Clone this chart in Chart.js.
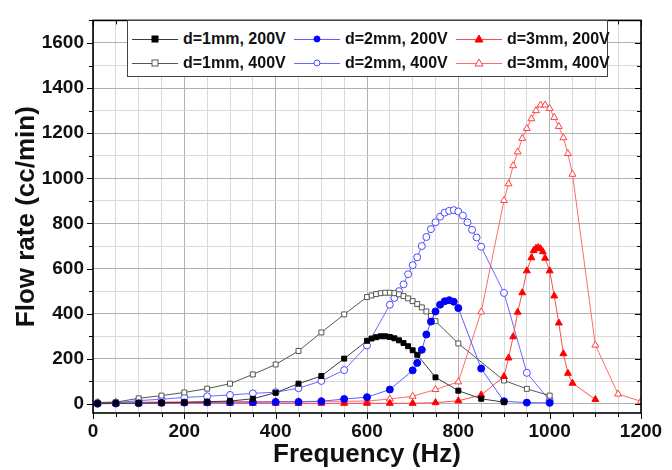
<!DOCTYPE html>
<html>
<head>
<meta charset="utf-8">
<script src="https://cdn.jsdelivr.net/npm/chart.js@4.4.0/dist/chart.umd.min.js"></script>
<style>
  body { margin: 0; background: #fff; }
  #wrap { position: relative; width: 672px; height: 470px; }
  #legend {
    position: absolute; left: 127px; top: 20px; width: 481px; height: 57px;
    border: 1px solid #444; background: #fff; box-sizing: border-box;
    display: grid; grid-template-columns: 162px 162px 156px; grid-template-rows: 24px 24px;
    padding: 6px 0 0 4px;
    font: bold 16px "Liberation Sans", Arial, sans-serif; color: #111;
  }
  #legend .item { display: flex; align-items: center; white-space: nowrap; }
  #legend svg { margin-right: 5px; }
</style>
</head>
<body>
<div id="wrap">
  <canvas id="myChart" width="672" height="470"></canvas>
  <div id="legend"></div>
</div>
<script>
// DATA :
const freq_1mm_200 = [10, 50, 100, 150, 200, 250, 300, 350, 400, 450, 500, 550, 600, 610, 620, 630, 640, 650, 660, 670, 680, 690, 700, 710, 750, 800, 850, 900];
const flow_1mm_200 = [2, 3, 4, 5, 7, 10, 13, 23, 50, 90, 124, 201, 280, 290, 296, 300, 300, 297, 291, 282, 270, 256, 238, 218, 118, 59, 23, 8];

const freq_2mm_200 = [10, 50, 100, 150, 200, 250, 300, 350, 400, 450, 500, 550, 600, 650, 700, 710, 720, 730, 740, 750, 760, 770, 780, 790, 800, 850, 900, 950, 1000];
const flow_2mm_200 = [1, 2, 3, 5, 6, 7, 8, 8, 9, 9, 12, 22, 30, 64, 149, 182, 240, 308, 365, 410, 440, 455, 460, 453, 425, 157, 12, 6, 5];

const freq_3mm_200 = [10, 50, 100, 150, 200, 250, 300, 350, 400, 450, 500, 550, 600, 650, 700, 750, 800, 850, 900, 910, 920, 930, 940, 950, 960, 965, 970, 975, 980, 985, 990, 1000, 1010, 1020, 1030, 1040, 1050, 1100];
const flow_3mm_200 = [2, 2, 2, 3, 3, 3, 3, 3, 3, 3, 3, 3, 3, 3, 3, 6, 14, 40, 122, 204, 298, 407, 493, 590, 648, 680, 690, 693, 688, 675, 646, 590, 479, 359, 223, 136, 92, 20];

const freq_1mm_400 = [10, 50, 100, 150, 200, 250, 300, 350, 400, 450, 500, 550, 600, 610, 620, 630, 640, 650, 660, 670, 680, 690, 700, 710, 720, 730, 740, 750, 800, 900, 950, 1000];
const flow_1mm_400 = [5, 8, 25, 37, 51, 68, 90, 131, 175, 235, 317, 397, 474, 481, 487, 491, 493, 493, 491, 486, 478, 468, 456, 443, 428, 410, 390, 367, 268, 104, 67, 37];

const freq_2mm_400 = [10, 50, 100, 150, 200, 250, 300, 350, 400, 450, 500, 550, 600, 650, 660, 670, 680, 690, 700, 710, 720, 730, 740, 750, 760, 770, 780, 790, 800, 810, 820, 830, 840, 850, 900, 950, 1000];
const flow_2mm_400 = [5, 5, 15, 21, 29, 34, 40, 47, 52, 70, 102, 150, 259, 440, 470, 500, 530, 575, 615, 650, 700, 740, 775, 805, 830, 848, 856, 859, 853, 835, 805, 772, 738, 697, 492, 138, 15];

const freq_3mm_400 = [10, 50, 100, 150, 200, 250, 300, 350, 400, 450, 500, 550, 600, 650, 700, 750, 800, 850, 900, 910, 920, 930, 940, 950, 960, 970, 980, 990, 1000, 1010, 1020, 1030, 1040, 1050, 1100, 1150, 1200];
const flow_3mm_400 = [8, 8, 8, 9, 9, 10, 10, 10, 11, 11, 12, 12, 13, 22, 34, 64, 98, 408, 902, 976, 1056, 1117, 1177, 1221, 1264, 1300, 1325, 1325, 1310, 1270, 1230, 1180, 1110, 1018, 261, 44, 12];

const xTicks = [0, 200, 400, 600, 800, 1000, 1200];
const yTicks = [0, 200, 400, 600, 800, 1000, 1200, 1400, 1600];

const toPoints = (xs, ys) => xs.map((x, i) => ({ x: x, y: ys[i] }));

// series: label, x, y, line colour, marker colour, marker style, filled
const series = [
    ['d=1mm, 200V', freq_1mm_200, flow_1mm_200, '#3a3a3a', '#000000', 'rect', true],
    ['d=2mm, 200V', freq_2mm_200, flow_2mm_200, '#5c5cff', '#0000ff', 'circle', true],
    ['d=3mm, 200V', freq_3mm_200, flow_3mm_200, '#ff4c4c', '#ff0000', 'triangle', true],
    ['d=1mm, 400V', freq_1mm_400, flow_1mm_400, '#555555', '#555555', 'rect', false],
    ['d=2mm, 400V', freq_2mm_400, flow_2mm_400, '#6a6aff', '#4a4aff', 'circle', false],
    ['d=3mm, 400V', freq_3mm_400, flow_3mm_400, '#ff6a6a', '#ff4040', 'triangle', false],
];

const datasets = series.map(s => ({
    label: s[0],
    data: toPoints(s[1], s[2]),
    showLine: true,
    borderColor: s[3],
    borderWidth: 1,
    pointStyle: s[5],
    pointRadius: s[5] === 'triangle' ? 4 : 3.5,
    pointBorderWidth: 1,
    pointBorderColor: s[4],
    pointBackgroundColor: s[6] ? s[4] : '#ffffff',
    tension: 0,
}));

// frame + Origin style ticks
const frameTicks = {
    id: 'frameTicks',
    afterDraw(chart) {
        const c = chart.ctx;
        const a = chart.chartArea;
        const xs = chart.scales.x, ys = chart.scales.y;
        c.save();
        c.strokeStyle = '#000';
        c.lineWidth = 1;
        c.beginPath();
        for (let v = 0; v <= 1200; v += 50) {
            const px = Math.round(xs.getPixelForValue(v)) + 0.5;
            const len = v % 200 === 0 ? 6 : 4;
            c.moveTo(px, a.bottom); c.lineTo(px, a.bottom + len);
            c.moveTo(px, a.top); c.lineTo(px, a.top + len);
        }
        for (let v = 0; v <= 1700; v += 100) {
            const py = Math.round(ys.getPixelForValue(v)) + 0.5;
            const len = v % 200 === 0 ? 6 : 4;
            c.moveTo(a.left, py); c.lineTo(a.left - len, py);
            c.moveTo(a.right, py); c.lineTo(a.right - len, py);
        }
        c.stroke();
        c.lineWidth = 1.6;
        c.strokeRect(a.left, a.top, a.right - a.left, a.bottom - a.top);
        c.restore();
    }
};

const ctx = document.getElementById('myChart').getContext('2d');

const myChart = new Chart(ctx, {
    type: 'scatter',
    data: { datasets },
    options: {
        responsive: false,
        animation: false,
        layout: { padding: { top: 11, right: 31, left: 0, bottom: 0 } },
        plugins: { legend: { display: false }, tooltip: { enabled: false } },
        scales: {
            x: {
                type: 'linear', min: 0, max: 1200,
                afterBuildTicks: (scale) => {
                    scale.ticks = [];
                    for (let v = 0; v <= 1200; v += 50) scale.ticks.push({ value: v });
                },
                afterFit: (scale) => { scale.height = 57; },
                grid: {
                    drawTicks: false,
                    color: (c) => c.tick && c.tick.value % 200 === 0 ? '#b0b0b0' : '#dadada',
                    lineWidth: 1,
                },
                border: { display: false },
                ticks: {
                    autoSkip: false, maxRotation: 0, padding: 7,
                    color: '#111',
                    font: { family: '"Liberation Sans", Arial', size: 19, weight: 'bold' },
                    callback: (v) => xTicks.includes(v) ? v : '',
                },
                title: {
                    display: true, text: 'Frequency (Hz)', color: '#111',
                    font: { family: '"Liberation Sans", Arial', size: 26, weight: 'bold' },
                    padding: { top: 0, bottom: 0 },
                },
            },
            y: {
                type: 'linear', min: -40, max: 1700,
                afterBuildTicks: (scale) => {
                    scale.ticks = [];
                    for (let v = 0; v <= 1700; v += 100) scale.ticks.push({ value: v });
                },
                afterFit: (scale) => { scale.width = 93; },
                grid: {
                    drawTicks: false,
                    color: (c) => c.tick && c.tick.value % 200 === 0 ? '#b0b0b0' : '#dadada',
                    lineWidth: 1,
                },
                border: { display: false },
                ticks: {
                    autoSkip: false, padding: 9,
                    color: '#111',
                    font: { family: '"Liberation Sans", Arial', size: 19, weight: 'bold' },
                    callback: (v) => yTicks.includes(v) ? v : '',
                },
                title: {
                    display: true, text: 'Flow rate (cc/min)', color: '#111',
                    font: { family: '"Liberation Sans", Arial', size: 26, weight: 'bold' },
                    padding: { top: 11, bottom: 0 },
                },
            },
        },
    },
    plugins: [frameTicks],
});

// Legend :
const legendEl = document.getElementById('legend');
series.forEach(s => {
    const fill = s[6] ? s[4] : '#fff';
    let mark;
    if (s[5] === 'rect') mark = `<rect x="20" y="3" width="6" height="6" fill="${fill}" stroke="${s[4]}"/>`;
    else if (s[5] === 'circle') mark = `<circle cx="23" cy="6" r="3" fill="${fill}" stroke="${s[4]}"/>`;
    else mark = `<polygon points="23,2 27,9 19,9" fill="${fill}" stroke="${s[4]}"/>`;
    const item = document.createElement('div');
    item.className = 'item';
    item.innerHTML = `<svg width="46" height="12"><line x1="0" y1="6.5" x2="46" y2="6.5" stroke="${s[3]}" stroke-width="1"/>${mark}</svg><span>${s[0]}</span>`;
    legendEl.appendChild(item);
});
</script>
</body>
</html>
